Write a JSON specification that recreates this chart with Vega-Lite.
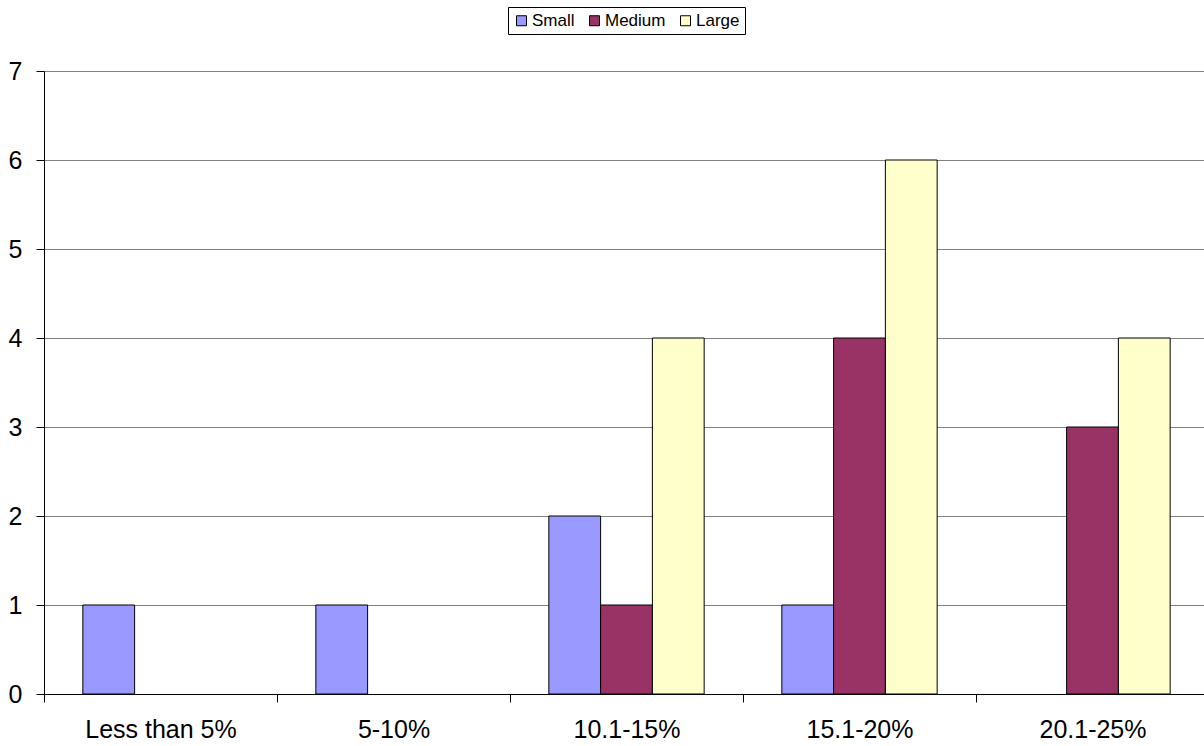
{
  "$schema": "https://vega.github.io/schema/vega-lite/v6.json",
  "autosize": {"type": "none"},
  "padding": {"left": 44, "top": 71, "right": 0, "bottom": 52},
  "width": 1165,
  "height": 623,
  "background": "white",
  "config": {
    "view": {"stroke": null},
    "font": "Liberation Sans"
  },
  "data": {
    "values": [
      {"range": "Less than 5%", "size": "Small", "count": 1},
      {"range": "5-10%", "size": "Small", "count": 1},
      {"range": "10.1-15%", "size": "Small", "count": 2},
      {"range": "10.1-15%", "size": "Medium", "count": 1},
      {"range": "10.1-15%", "size": "Large", "count": 4},
      {"range": "15.1-20%", "size": "Small", "count": 1},
      {"range": "15.1-20%", "size": "Medium", "count": 4},
      {"range": "15.1-20%", "size": "Large", "count": 6},
      {"range": "20.1-25%", "size": "Medium", "count": 3},
      {"range": "20.1-25%", "size": "Large", "count": 4}
    ]
  },
  "mark": {"type": "bar", "stroke": "black", "strokeWidth": 1},
  "encoding": {
    "x": {
      "field": "range",
      "type": "nominal",
      "sort": ["Less than 5%", "5-10%", "10.1-15%", "15.1-20%", "20.1-25%"],
      "scale": {"paddingInner": 0, "paddingOuter": 0},
      "axis": {
        "title": null,
        "labelAngle": 0,
        "labelFontSize": 25,
        "labelColor": "black",
        "domainColor": "black",
        "tickColor": "black",
        "tickBand": "extent",
        "tickSize": 8,
        "labelPadding": 15
      }
    },
    "xOffset": {
      "field": "size",
      "type": "nominal",
      "scale": {"domain": ["Small", "Medium", "Large"], "paddingInner": 0, "paddingOuter": 0.75}
    },
    "y": {
      "field": "count",
      "type": "quantitative",
      "scale": {"domain": [0, 7], "nice": false},
      "axis": {
        "title": null,
        "values": [0, 1, 2, 3, 4, 5, 6, 7],
        "grid": true,
        "gridColor": "#808080",
        "gridOpacity": 1,
        "domainColor": "black",
        "tickColor": "black",
        "tickSize": 8,
        "labelFontSize": 25,
        "labelColor": "black",
        "labelPadding": 14
      }
    },
    "color": {
      "field": "size",
      "type": "nominal",
      "scale": {"domain": ["Small", "Medium", "Large"], "range": ["#9999FF", "#993366", "#FFFFCC"]},
      "legend": {
        "title": null,
        "orient": "none",
        "legendX": 464,
        "legendY": -64,
        "direction": "horizontal",
        "strokeColor": "black",
        "fillColor": "white",
        "padding": 5,
        "symbolType": "square",
        "symbolSize": 100,
        "symbolStrokeColor": "black",
        "symbolStrokeWidth": 1,
        "symbolOpacity": 1,
        "labelFontSize": 17,
        "labelColor": "black",
        "labelOffset": 2,
        "columnPadding": 11
      }
    }
  }
}
